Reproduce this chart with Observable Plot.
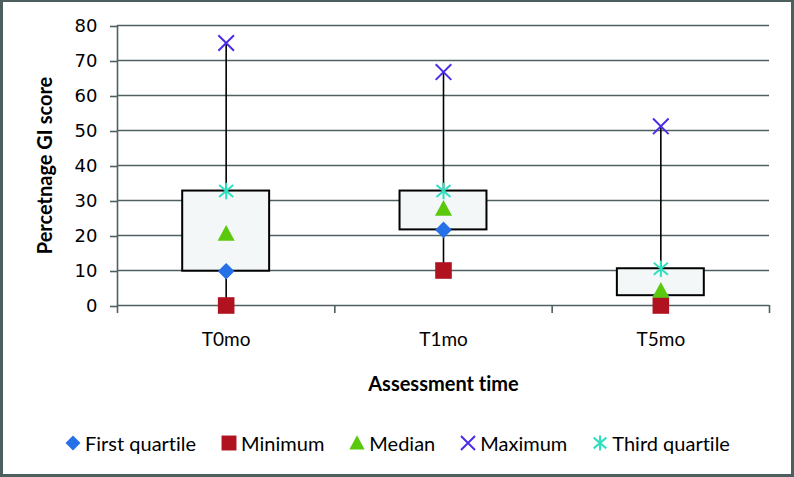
<!DOCTYPE html>
<html><head><meta charset="utf-8">
<script src="https://cdn.jsdelivr.net/npm/d3@7"></script>
<script src="https://cdn.jsdelivr.net/npm/@observablehq/plot@0.6"></script>
<style>
html,body{margin:0;padding:0;background:#fff;}
#wrap{position:relative;width:794px;height:477px;overflow:hidden;background:#fff;font-variant-ligatures:none;}
#wrap svg text{font-variant-ligatures:none;}
#frame{position:absolute;left:0;top:0;width:794px;height:477px;box-sizing:border-box;border:solid #4d5e5e;border-width:2px 3px 3px 3px;pointer-events:none;}
#chart{position:absolute;left:0;top:0;}
#legend{position:absolute;left:0;top:430px;width:794px;height:26px;display:flex;justify-content:center;align-items:center;font-family:Lato,sans-serif;font-size:20px;color:#000;font-variant-ligatures:none;}
.item{display:flex;align-items:center;margin:0 12px;white-space:nowrap;}
.item svg{margin-right:3px;}
</style></head><body>
<div id="wrap"><div id="chart"></div><div id="legend"></div><div id="frame"></div></div>
<script>
// ---- data ----
const categories = ["T0mo", "T1mo", "T5mo"];
const firstQuartile = [9.8, 21.6, 2.8];
const minimum = [0, 10, 0];
const median = [20.6, 27.7, 4.3];
const maximum = [75, 66.7, 51.2];
const thirdQuartile = [32.7, 32.7, 10.5];
const yTicks = [0, 10, 20, 30, 40, 50, 60, 70, 80];
const seriesNames = ["First quartile", "Minimum", "Median", "Maximum", "Third quartile"];
const yTitle = "Percetnage GI score";
const xTitle = "Assessment time";

// ---- custom marker shapes ----
const rad = size => Math.sqrt(size / Math.PI);
const symDiamond = {draw(c, size){const r = rad(size); c.moveTo(0,-r); c.lineTo(r,0); c.lineTo(0,r); c.lineTo(-r,0); c.closePath();}};
const symSquare = {draw(c, size){const r = rad(size); c.moveTo(-r,-r); c.lineTo(r,-r); c.lineTo(r,r); c.lineTo(-r,r); c.closePath();}};
const symTriangle = {draw(c, size){const r = rad(size); c.moveTo(0,-r); c.lineTo(r,r*0.85); c.lineTo(-r,r*0.85); c.closePath();}};
const symTimes = {draw(c, size){const r = rad(size); c.moveTo(-r,-r); c.lineTo(r,r); c.moveTo(-r,r); c.lineTo(r,-r);}};
const symAsterisk = {draw(c, size){const r = rad(size); c.moveTo(0,-r); c.lineTo(0,r); c.moveTo(-0.85*r,-0.72*r); c.lineTo(0.85*r,0.72*r); c.moveTo(-0.85*r,0.72*r); c.lineTo(0.85*r,-0.72*r);}};

const rows = categories.map((cat, i) => ({
  cat, xi: i + 0.5,
  q1: firstQuartile[i], min: minimum[i], med: median[i], max: maximum[i], q3: thirdQuartile[i]
}));

const series = [
  {name: seriesNames[0], key: "q1",  symbol: symDiamond,  color: "#2671e8", r: 8.3, filled: true},
  {name: seriesNames[1], key: "min", symbol: symSquare,   color: "#b01220", r: 8.3, filled: true},
  {name: seriesNames[2], key: "med", symbol: symTriangle, color: "#5ac80c", r: 8.5, filled: true},
  {name: seriesNames[3], key: "max", symbol: symTimes,    color: "#4a2de6", r: 7.8, filled: false},
  {name: seriesNames[4], key: "q3",  symbol: symAsterisk, color: "#2fe0c0", r: 8.3, filled: false}
];

const gridColor = "#4f6060";

const dots = series.map(s => Plot.dot(rows, {
  x: "xi", y: s.key, symbol: s.symbol, r: s.r,
  fill: s.filled ? s.color : "none",
  stroke: s.filled ? "none" : s.color,
  strokeWidth: 2
}));

const chart = Plot.plot({
  width: 794, height: 410,
  marginLeft: 117, marginRight: 25, marginTop: 25, marginBottom: 105,
  style: {fontFamily: "DejaVu Sans", fontSize: "18px", color: "#000", background: "transparent", overflow: "visible"},
  x: {domain: [0, categories.length]},
  y: {domain: [0, 80]},
  marks: [
    Plot.gridY(yTicks, {stroke: gridColor, strokeOpacity: 1, strokeWidth: 1.6}),
    Plot.axisY(yTicks, {tickSize: 7, tickPadding: 13, stroke: gridColor, strokeWidth: 1.6, fill: "#000", label: null, fontFamily: "DejaVu Sans", fontSize: 18, dy: 1}),
    Plot.ruleX([0], {stroke: gridColor, strokeWidth: 1.6}),
    Plot.axisX(d3.range(categories.length + 1), {tickSize: 8, tickFormat: () => "", stroke: gridColor, strokeWidth: 1.6, label: null}),
    Plot.axisX(rows.map(d => d.xi), {tickSize: 0, tickPadding: 27, tickFormat: v => categories[Math.floor(v)], fontFamily: "Lato", fontSize: 19, fill: "#000", label: null}),
    Plot.text([yTitle], {frameAnchor: "left", textAnchor: "middle", lineAnchor: "middle", rotate: -90, dx: -72, fontFamily: "Lato", fontWeight: "bold", fontSize: 20, fill: "#000"}),
    Plot.text([xTitle], {frameAnchor: "bottom", textAnchor: "middle", lineAnchor: "bottom", dy: 85, fontFamily: "Lato", fontWeight: "bold", fontSize: 20, fill: "#000"}),
    Plot.ruleX(rows, {x: "xi", y1: "min", y2: "max", stroke: "#000", strokeWidth: 1.6}),
    Plot.rect(rows, {x1: d => d.xi - 0.2, x2: d => d.xi + 0.2, y1: "q1", y2: "q3", fill: "#f3f7f8", stroke: "#000", strokeWidth: 2}),
    ...dots
  ]
});
document.getElementById("chart").appendChild(chart);

// ---- legend ----
const legend = d3.select("#legend");
series.forEach(s => {
  const item = legend.append("div").attr("class", "item");
  const svg = item.append("svg").attr("width", 18).attr("height", 18);
  const p = d3.path();
  const rr = s.r * 0.9;
  s.symbol.draw(p, Math.PI * rr * rr);
  svg.append("path").attr("d", p.toString()).attr("transform", "translate(9,9)")
    .attr("fill", s.filled ? s.color : "none")
    .attr("stroke", s.filled ? "none" : s.color)
    .attr("stroke-width", 2);
  item.append("span").text(s.name);
});
</script>
</body></html>
